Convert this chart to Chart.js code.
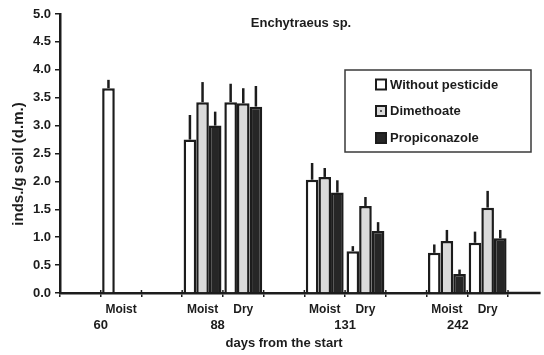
<!DOCTYPE html>
<html>
<head>
<meta charset="utf-8">
<script src="https://cdn.jsdelivr.net/npm/chart.js@4/dist/chart.umd.min.js"></script>
<style>
  html, body { margin: 0; padding: 0; background: #ffffff; }
  #wrap { width: 544px; height: 355px; position: relative; }
</style>
</head>
<body>
<div id="wrap"><canvas id="c" width="544" height="355"></canvas></div>
<script>
// ---- data ----
const categories = ['', 'Moist', '', 'Moist', 'Dry', '', 'Moist', 'Dry', '', 'Moist', 'Dry'];
const seriesNames = ['Without pesticide', 'Dimethoate', 'Propiconazole'];
const withoutPesticide    = [null, 3.67, null, 2.75, 3.42, null, 2.03, 0.75, null, 0.72, 0.90];
const withoutPesticideErr = [null, 0.15, null, 0.44, 0.33, null, 0.30, 0.09, null, 0.15, 0.20];
const dimethoate          = [null, null, null, 3.42, 3.40, null, 2.08, 1.56, null, 0.93, 1.53];
const dimethoateErr       = [null, null, null, 0.36, 0.27, null, 0.16, 0.16, null, 0.20, 0.30];
const propiconazole       = [null, null, null, 3.00, 3.34, null, 1.80, 1.11, null, 0.34, 0.98];
const propiconazoleErr    = [null, null, null, 0.25, 0.37, null, 0.22, 0.16, null, 0.08, 0.15];
const dayLabels = ['60', '88', '131', '242'];
const yTickValues = [0, 0.5, 1, 1.5, 2, 2.5, 3, 3.5, 4, 4.5, 5];
const chartTitle = 'Enchytraeus sp.';
const yTitle = 'inds./g soil (d.m.)';
const xTitle = 'days from the start';

// ---- layout helpers (not data) ----
const FONT = "'Liberation Sans', Arial, Helvetica, sans-serif";
const INK = '#1c1c1c';
const dayLabelIndex = [0.5, 3.37, 6.5, 9.27];

const errorBars = [withoutPesticideErr, dimethoateErr, propiconazoleErr];

const errorBarPlugin = {
  id: 'errorBars',
  afterDatasetsDraw(chart) {
    const ctx = chart.ctx;
    const y = chart.scales.y;
    ctx.save();
    ctx.strokeStyle = INK;
    ctx.lineWidth = 2.5;
    chart.data.datasets.forEach((ds, di) => {
      const meta = chart.getDatasetMeta(di);
      meta.data.forEach((bar, i) => {
        const v = ds.data[i];
        const e = errorBars[di][i];
        if (v == null || e == null) return;
        ctx.beginPath();
        ctx.moveTo(bar.x, y.getPixelForValue(v));
        ctx.lineTo(bar.x, y.getPixelForValue(v + e));
        ctx.stroke();
      });
    });
    ctx.restore();
  }
};

const decorPlugin = {
  id: 'decor',
  afterDraw(chart) {
    const ctx = chart.ctx;
    const ca = chart.chartArea;
    const xs = chart.scales.x;
    ctx.save();
    // extend x axis line to the right
    const slot = (ca.right - ca.left) / categories.length;
    ctx.strokeStyle = INK;
    ctx.lineWidth = 2.5;
    ctx.beginPath();
    ctx.moveTo(ca.right, ca.bottom);
    ctx.lineTo(ca.right + slot * 0.8, ca.bottom);
    ctx.stroke();
    // small tick marks above the x axis
    ctx.lineWidth = 1.5;
    for (let i = 0; i <= categories.length; i++) {
      const px = xs.getPixelForValue(i - 0.5);
      ctx.beginPath();
      ctx.moveTo(px, ca.bottom - 3);
      ctx.lineTo(px, ca.bottom);
      ctx.stroke();
    }
    // day labels
    ctx.fillStyle = INK;
    ctx.font = 'bold 13px ' + FONT;
    ctx.textAlign = 'center';
    ctx.textBaseline = 'middle';
    dayLabels.forEach((t, k) => {
      ctx.fillText(t, xs.getPixelForValue(dayLabelIndex[k]), ca.bottom + 32);
    });
    // title
    ctx.font = 'bold 13px ' + FONT;
    ctx.fillText(chartTitle, 301, 23);
    // y title (rotated)
    ctx.save();
    ctx.translate(19, 164);
    ctx.rotate(-Math.PI / 2);
    ctx.font = 'bold 15px ' + FONT;
    ctx.fillText(yTitle, 0, 0);
    ctx.restore();
    // legend
    const bx = 345, by = 70, bw = 186, bh = 82;
    ctx.strokeStyle = '#3a3a3a';
    ctx.lineWidth = 1.5;
    ctx.strokeRect(bx, by, bw, bh);
    const rows = [84.5, 111, 138];
    ctx.textAlign = 'left';
    ctx.font = 'bold 13px ' + FONT;
    chart.data.datasets.forEach((ds, di) => {
      const cy = rows[di];
      const mx = 376, ms = 10;
      ctx.fillStyle = ds.backgroundColor;
      ctx.fillRect(mx, cy - ms / 2, ms, ms);
      ctx.strokeStyle = INK;
      ctx.lineWidth = 2;
      ctx.strokeRect(mx, cy - ms / 2, ms, ms);
      if (di === 1) {
        ctx.fillStyle = '#555';
        ctx.fillRect(mx + ms / 2 - 1, cy - 1, 2, 2);
      }
      ctx.fillStyle = INK;
      ctx.fillText(ds.label, 390, cy + 0.5);
    });
    ctx.restore();
  }
};

new Chart(document.getElementById('c'), {
  type: 'bar',
  data: {
    labels: categories,
    datasets: [
      { label: seriesNames[0], data: withoutPesticide, backgroundColor: '#ffffff', borderColor: INK, borderWidth: 2.5 },
      { label: seriesNames[1], data: dimethoate, backgroundColor: '#dadada', borderColor: INK, borderWidth: 2.5 },
      { label: seriesNames[2], data: propiconazole, backgroundColor: '#262626', borderColor: INK, borderWidth: 2.5 }
    ]
  },
  plugins: [errorBarPlugin, decorPlugin],
  options: {
    responsive: false,
    animation: false,
    devicePixelRatio: 1,
    layout: { padding: { left: 0, right: 36, top: 14, bottom: 0 } },
    datasets: { bar: { categoryPercentage: 0.93, barPercentage: 1.0, skipNull: false } },
    plugins: { legend: { display: false }, tooltip: { enabled: false }, title: { display: false } },
    scales: {
      x: {
        offset: true,
        grid: { display: true, drawOnChartArea: false, drawTicks: true, tickLength: 4, color: INK, lineWidth: 1.5, offset: true },
        border: { display: true, color: INK, width: 2.5 },
        ticks: { color: INK, font: { family: FONT, size: 12, weight: 'bold' }, padding: 5, maxRotation: 0, autoSkip: false },
        title: { display: true, text: xTitle, color: INK, font: { family: FONT, size: 13, weight: 'bold' }, padding: { top: 0, bottom: 4 } },
        afterFit(s) { s.height = 62; }
      },
      y: {
        min: 0, max: 5,
        afterBuildTicks(s) { s.ticks = yTickValues.map(v => ({ value: v })); },
        grid: { display: true, drawOnChartArea: false, drawTicks: true, tickLength: 5, color: INK, lineWidth: 1.5 },
        border: { display: true, color: INK, width: 2.5 },
        ticks: { color: INK, font: { family: FONT, size: 13, weight: 'bold' }, padding: 4, callback: v => Number(v).toFixed(1) },
        title: { display: false },
        afterFit(s) { s.width = 60; }
      }
    }
  }
});
</script>
</body>
</html>
